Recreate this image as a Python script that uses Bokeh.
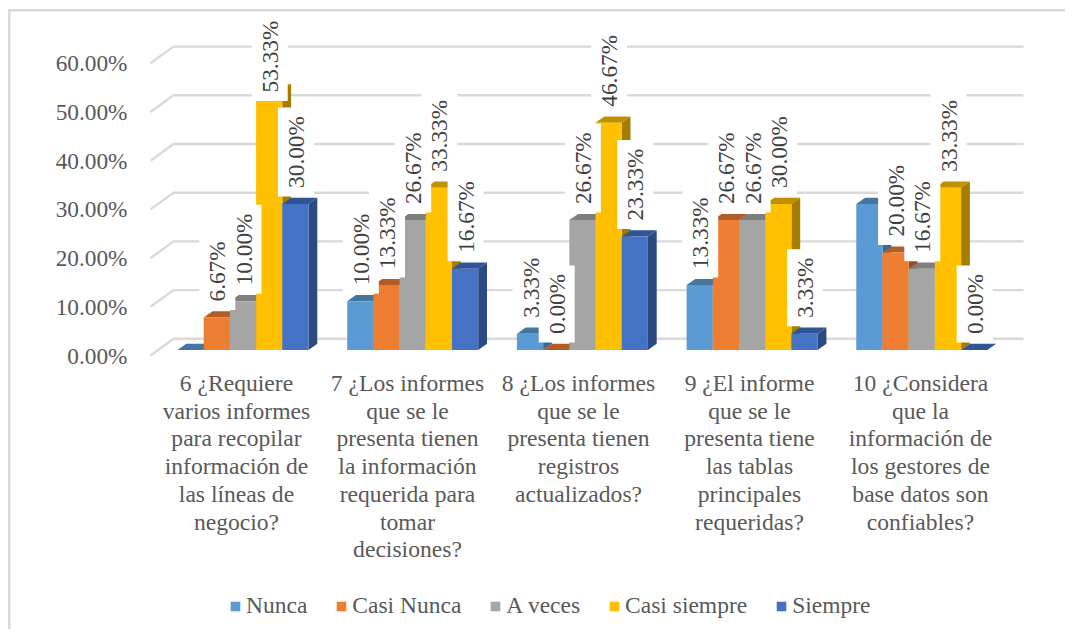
import math
from bokeh.plotting import figure
from bokeh.models import Legend, LegendItem, LinearAxis, Range1d, FixedTicker, PrintfTickFormatter
from bokeh.core.properties import value
from bokeh.embed import file_html
from bokeh.resources import INLINE

categories = [
    "6 ¿Requiere\nvarios informes\npara recopilar\ninformación de\nlas líneas de\nnegocio?",
    "7 ¿Los informes\nque se le\npresenta tienen\nla información\nrequerida para\ntomar\ndecisiones?",
    "8 ¿Los informes\nque se le\npresenta tienen\nregistros\nactualizados?",
    "9 ¿El informe\nque se le\npresenta tiene\nlas tablas\nprincipales\nrequeridas?",
    "10 ¿Considera\nque la\ninformación de\nlos gestores de\nbase datos son\nconfiables?",
]
series_names = ["Nunca", "Casi Nunca", "A veces", "Casi siempre", "Siempre"]
nunca = [0.00, 10.00, 3.33, 13.33, 30.00]
casi_nunca = [6.67, 13.33, 0.00, 26.67, 20.00]
a_veces = [10.00, 26.67, 26.67, 26.67, 16.67]
casi_siempre = [53.33, 33.33, 46.67, 30.00, 33.33]
siempre = [30.00, 16.67, 23.33, 3.33, 0.00]
series_values = [nunca, casi_nunca, a_veces, casi_siempre, siempre]
y_ticks = [0, 10, 20, 30, 40, 50, 60]
# (category, series) of the bars that carry no data label in the reference
unlabelled = [(0, 0), (4, 0)]

front_colors = ["#5B9BD5", "#ED7D31", "#A5A5A5", "#FFC000", "#4472C4"]
top_colors = ["#44769F", "#B35C25", "#7F7F7F", "#BF9000", "#2F5597"]
side_colors = ["#3A6A94", "#A04E1C", "#6E6E6E", "#A67C00", "#2B4A80"]
GRID = "#D9D9D9"
FONT = "Liberation Serif"

W, H = 1065, 629
LEFT = 133
PITCH = 169.7     # px per category
BAR0 = 177.0      # picture x of first bar
BW = 26.2 / PITCH
ZERO = 349.5      # picture y of value 0 on the bars' front
K = 4.87          # px per percentage point
DX = 8.8 / PITCH
DY = 6.2 / K
xr = Range1d((LEFT - BAR0) / PITCH, (W - BAR0) / PITCH)
yr = Range1d((ZERO - H) / K, ZERO / K)

p = figure(width=W, height=H, x_range=xr, y_range=yr, output_backend="svg", toolbar_location=None,
           x_axis_type=None, y_axis_type=None, min_border_left=LEFT, min_border_right=0,
           min_border_top=0, min_border_bottom=0, background_fill_alpha=0, border_fill_alpha=0)
p.grid.visible = False
p.outline_line_color = None
# chart-area border: only its top and left edges show in the reference
p.styles = {"background": (f"linear-gradient({GRID},{GRID}) 8px 9px / 2.5px 100% no-repeat,"
                           f"linear-gradient({GRID},{GRID}) 8px 9px / 100% 2.5px no-repeat")}

# y axis, whose labels follow the front ends of the gridlines
AX0 = 355.0
p.extra_y_ranges = {"ax": Range1d((AX0 - H) / K, AX0 / K)}
ax = LinearAxis(y_range_name="ax", ticker=FixedTicker(ticks=y_ticks),
                formatter=PrintfTickFormatter(format="%.2f%%"))
ax.axis_line_color = None
ax.major_tick_line_color = None
ax.minor_tick_line_color = None
ax.major_label_standoff = 0
ax.major_label_text_font = FONT
ax.major_label_text_font_size = "23.3px"
ax.major_label_text_color = "#595959"
p.add_layout(ax, "left")

# 3D gridlines
g_x0, g_x1, g_x2 = (150 - BAR0) / PITCH, (173 - BAR0) / PITCH, (1023 - BAR0) / PITCH
back, front = (ZERO - 338.3) / K, (ZERO - 355.0) / K
p.multi_line([[g_x0, g_x1, g_x2] for _ in y_ticks],
             [[t + front, t + back, t + back] for t in y_ticks],
             line_color=GRID, line_width=2.4)

items = []
for j, vals in enumerate(series_values):
    lefts = [i + j * BW for i in range(len(vals))]
    rights = [l + BW for l in lefts]
    p.patches([[r, r + DX, r + DX, r] for r in rights],
              [[0, DY, v + DY, v] for v in vals],
              fill_color=side_colors[j], line_color=None)
    p.patches([[l, r, r + DX, l + DX] for l, r in zip(lefts, rights)],
              [[v, v, v + DY, v + DY] for v in vals],
              fill_color=top_colors[j], line_color=None)
    bar = p.vbar(x=[(l + r) / 2 for l, r in zip(lefts, rights)], top=vals, bottom=0, width=BW,
                 fill_color=front_colors[j], line_color=None)
    items.append(LegendItem(label=series_names[j], renderers=[bar]))

# data labels: rotated, on white boxes; the highest one is pulled down to stay in the chart
LABEL_CAP = 49.6
LABEL_GAP = 16     # px from the bar's top to the start of the text
LABEL_PAD = 8.5
xs, ys, txt, box_y, box_h = [], [], [], [], []
for j, vals in enumerate(series_values):
    for i, v in enumerate(vals):
        if (i, j) in unlabelled:
            continue
        s = f"{v:.2f}%"
        length = 72 - 12 * (6 - len(s))
        start = min(v, LABEL_CAP)
        xs.append(i + (j + 0.5) * BW + 0.5 / PITCH)
        ys.append(start)
        txt.append(s)
        box_h.append(length + 2 * LABEL_PAD)
        box_y.append(start + (LABEL_GAP + length / 2) / K)
p.rect(xs, box_y, width=36, height=box_h, width_units="screen", height_units="screen",
       fill_color="white", line_color=None)
p.text(xs, ys, txt, angle=math.pi / 2, text_align="left", text_baseline="middle",
       y_offset=-LABEL_GAP, text_font=value(FONT), text_font_size="23.3px", text_color="#404040")

# category labels
p.text([(236 - BAR0 + 171 * i) / PITCH for i in range(len(categories))],
       [(ZERO - 369.5) / K] * len(categories), categories,
       text_align="center", text_baseline="top", text_font=value(FONT), text_font_size="23.6px",
       text_color="#595959", text_line_height=1.067)

leg = Legend(items=items, orientation="horizontal", location=(96, 10), background_fill_alpha=0,
             border_line_color=None, padding=0, margin=0, spacing=28, glyph_width=12, glyph_height=12,
             label_standoff=5, label_text_font=FONT, label_text_font_size="23.5px",
             label_text_color="#595959")
p.add_layout(leg, "center")

open("out.html", "w").write(file_html(p, INLINE))
